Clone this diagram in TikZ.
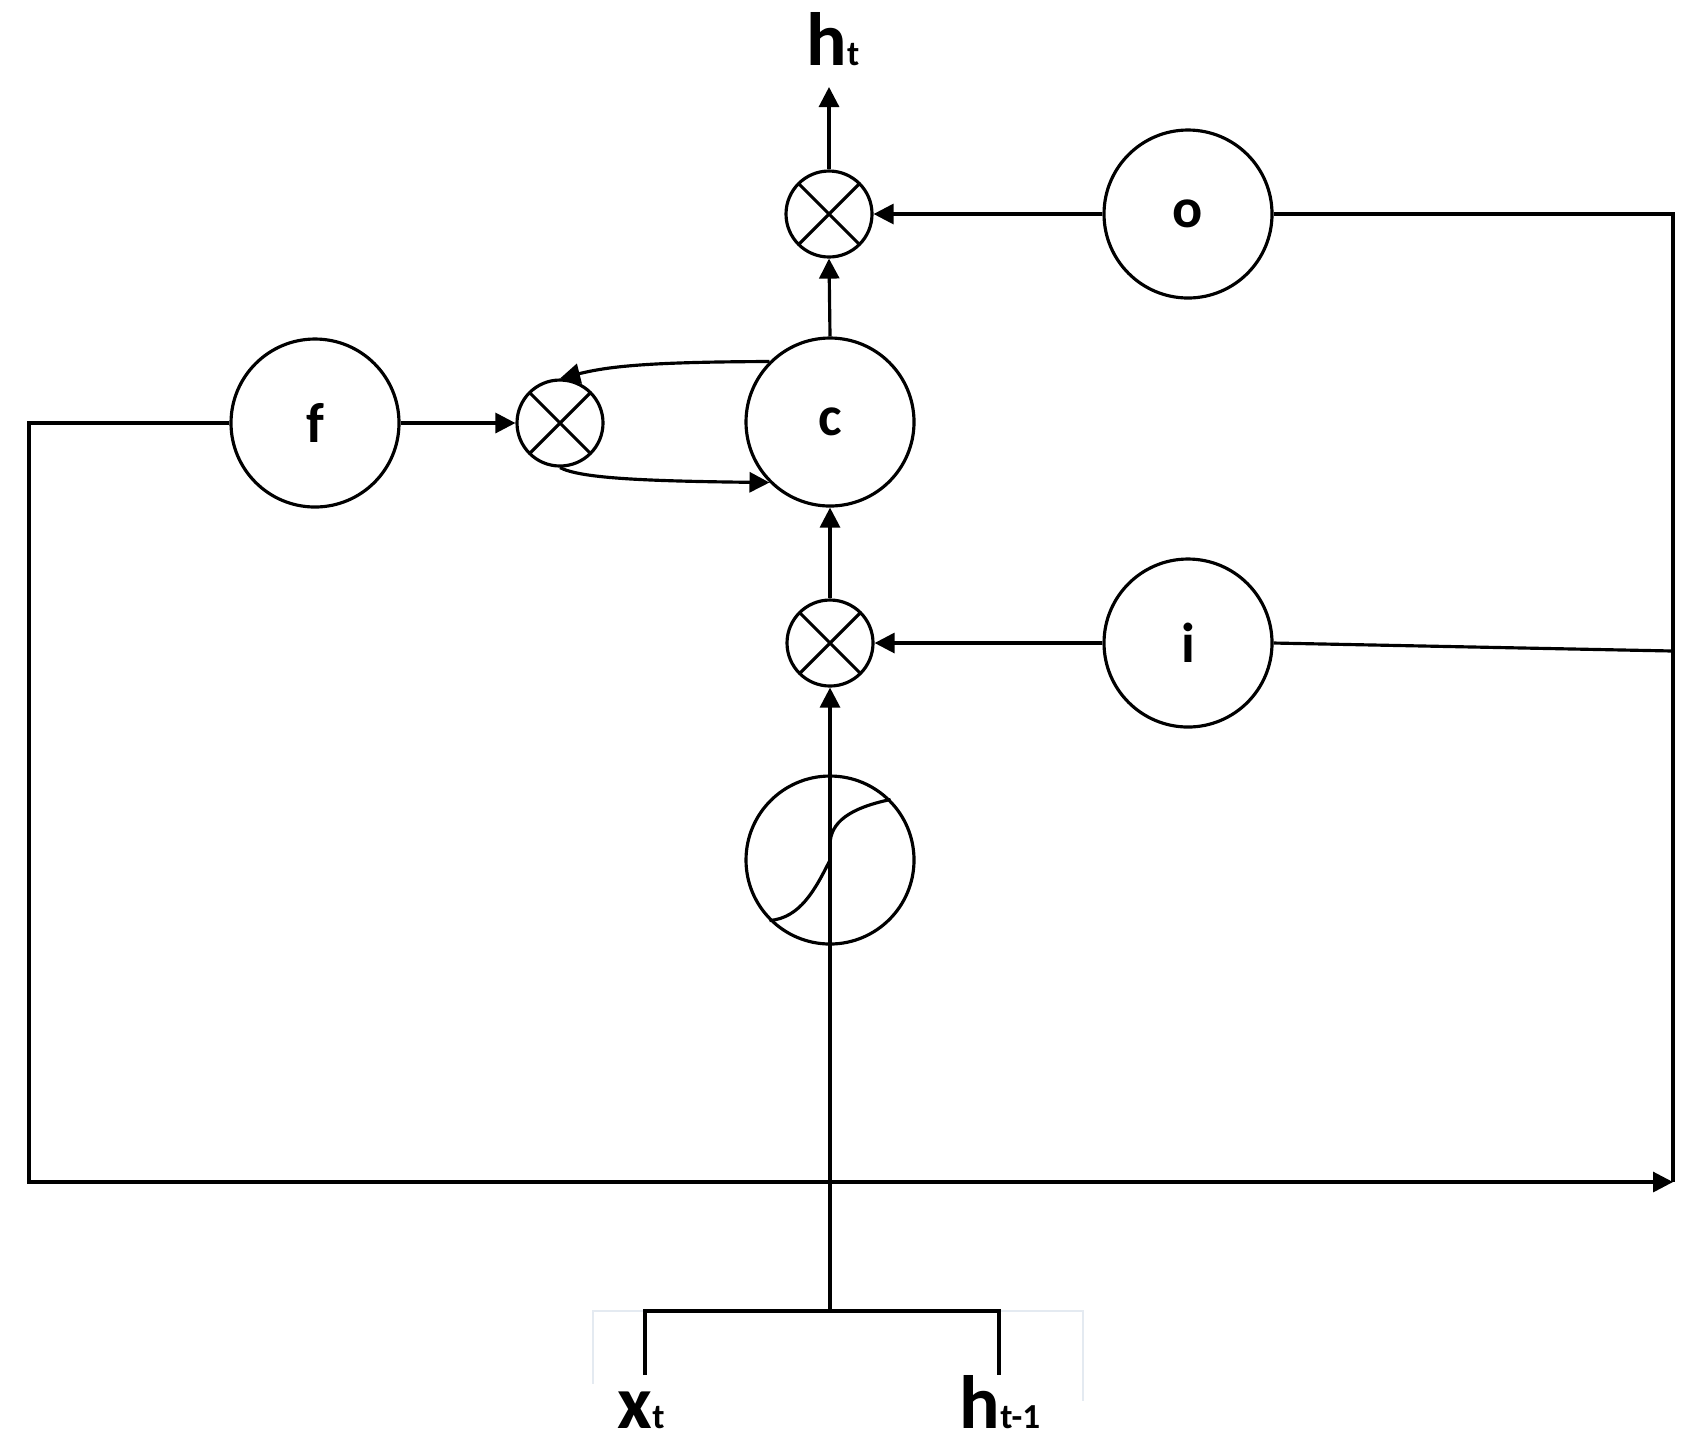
\documentclass[tikz,border=0pt]{standalone}
\usepackage{fontspec}
\setmainfont{Carlito}
\usetikzlibrary{arrows.meta}
\definecolor{brk}{RGB}{228,234,241}
\begin{document}
\begin{tikzpicture}[x=0.1mm,y=-0.1mm, line width=0.9pt,
  gate/.style={circle,draw,minimum size=16.8mm,inner sep=0pt,font=\fontsize{16}{16}\selectfont\bfseries},
  mult/.style={circle,draw,minimum size=8.6mm,inner sep=0pt,
    path picture={\draw (path picture bounding box.north west)--(path picture bounding box.south east)
                        (path picture bounding box.north east)--(path picture bounding box.south west);}},
  arr/.style={-{Triangle[length=2mm,width=2mm]}},
  lbl/.style={anchor=base,inner sep=0pt}]
\useasboundingbox (0,0) rectangle (1700,1444);
% gray bracket
\draw[brk,line width=0.8pt] (593,1384) -- (593,1311) -- (1083,1311) -- (1083,1401);
% nodes
\node[mult] (mo) at (829,214) {};
\node[gate] (o) at (1188,214) {o};
\node[gate] (f) at (315,423) {f};
\node[mult] (mf) at (560,423) {};
\node[gate] (c) at (830,422) {c};
\node[mult] (mi) at (830,643) {};
\node[gate] (i) at (1188,643) {i};
\node[gate] (g) at (830,860) {};
\coordinate (ht) at (829,87);
\coordinate (tr) at (1673,214);
\coordinate (ir) at (1673,651);
\coordinate (br) at (1673,1182);
\coordinate (bl) at (29,1182);
\coordinate (fl) at (29,423);
\coordinate (stem) at (830,1311);
\coordinate (xl) at (645,1311);
\coordinate (xb) at (645,1375);
\coordinate (hr) at (999,1311);
\coordinate (hb) at (999,1375);
% labels
\node[lbl] (htl) at (833,65) {\fontsize{21.5}{22}\selectfont\bfseries h\fontsize{10}{10}\selectfont t};
\node[lbl] (xtl) at (641,1428) {\fontsize{21.5}{22}\selectfont\bfseries x\fontsize{10}{10}\selectfont t};
\node[lbl] (hpl) at (1000,1428) {\fontsize{21.5}{22}\selectfont\bfseries h\fontsize{10}{10}\selectfont t-1};
% connectors
\draw[arr] (mo.north) -- (ht);
\draw[arr] (o.west) -- (mo.east);
\draw (o.east) -- (tr) -- (br);
\draw (i.east) -- (ir);
\draw[arr] (c.north) -- (mo.south);
\draw[arr] (mi.north) -- (c.south);
\draw[arr] (i.west) -- (mi.east);
\draw[arr] (f.east) -- (mf.west);
\draw[arr] (f.west) -- (fl) -- (bl) -- (br);
\draw[arr] (c.135) .. controls (650,362) and (610,366) .. (mf.north);
\draw[arr] (mf.south) .. controls (580,478) and (640,481) .. (c.225);
\draw[arr] (stem) -- (mi.south);
\draw (xb) -- (xl) -- (hr) -- (hb);
% sigmoid
\draw (g.225) .. controls (800,918) and (815,890) .. (830,860);
\draw (830,845) .. controls (830,822) and (850,808) .. (g.45);
\end{tikzpicture}
\end{document}
